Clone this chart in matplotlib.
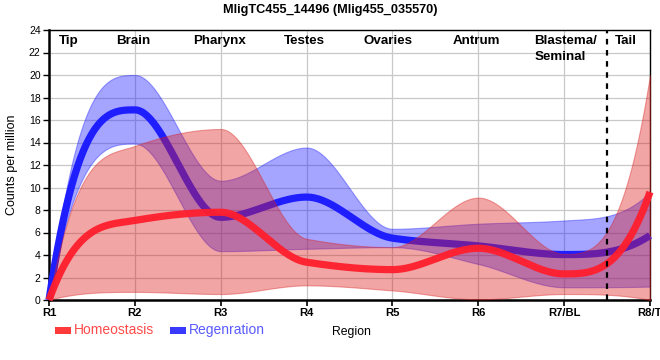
import numpy as np
import matplotlib
matplotlib.use("Agg")
import matplotlib.pyplot as plt
from matplotlib.patches import Rectangle

# ---- data (values at each region) ----
regions = ["R1", "R2", "R3", "R4", "R5", "R6", "R7/BL", "R8/T"]
homeo_mean = [0.0, 7.07, 7.8, 3.36, 2.7, 4.6, 2.32, 9.6]
homeo_upper = [0.0, 13.7, 15.2, 5.44, 4.7, 9.1, 4.1, 20.0]
homeo_lower = [0.0, 0.72, 0.53, 1.3, 0.85, 0.06, 0.53, 0.0]
regen_mean = [0.0, 16.9, 7.35, 9.15, 5.5, 4.81, 4.04, 5.74]
regen_upper = [0.0, 20.0, 10.6, 13.55, 6.33, 6.78, 7.07, 9.6]
regen_lower = [0.0, 13.9, 4.34, 4.55, 4.7, 3.2, 1.13, 1.19]
body_parts = ["Tip", "Brain", "Pharynx", "Testes", "Ovaries", "Antrum", "Tail"]
series_names = ["Homeostasis", "Regenration"]
title = "MligTC455_14496 (Mlig455_035570)"


def mono_curve(y, n_per=60):
    """Monotone cubic Hermite curve through points at x = 0..len-1."""
    y = np.asarray(y, float)
    x = np.arange(len(y), dtype=float)
    d = np.diff(y)
    m = np.zeros_like(y)
    for i in range(1, len(y) - 1):
        if d[i - 1] * d[i] > 0:
            m[i] = 2.0 / (1.0 / d[i - 1] + 1.0 / d[i])
    m[0] = 3.0 * d[0]
    m[-1] = 3.0 * d[-1]
    xs, ys = [], []
    for i in range(len(y) - 1):
        t = np.linspace(0, 1, n_per, endpoint=(i == len(y) - 2))
        h00 = 2 * t**3 - 3 * t**2 + 1
        h10 = t**3 - 2 * t**2 + t
        h01 = -2 * t**3 + 3 * t**2
        h11 = t**3 - t**2
        xs.append(x[i] + t)
        ys.append(h00 * y[i] + h10 * m[i] + h01 * y[i + 1] + h11 * m[i + 1])
    return np.concatenate(xs), np.concatenate(ys)


plt.rcParams['font.family'] = ['Liberation Sans', 'DejaVu Sans']

fig = plt.figure(figsize=(6.6, 3.6), dpi=100)
W, H = 660, 360
ax = fig.add_axes([49 / W, 60 / H, 601 / W, 270 / H])

red_band = '#dc1e1e'
blue_band = '#1e1eff'
red_line = '#ff1e2d'
blue_line = '#1e1eff'

# regeneration band + line
xu, yu = mono_curve(regen_upper)
xl, yl = mono_curve(regen_lower)
ax.fill_between(xu, yl, yu, color=blue_band, alpha=0.4, lw=0.8,
                edgecolor=(0.12, 0.12, 1, 0.45), zorder=2)
xm, ym = mono_curve(regen_mean)
ax.plot(xm, ym, color=blue_line, lw=5.2, solid_capstyle='butt', zorder=3, clip_on=False)

# homeostasis band + line
xu, yu = mono_curve(homeo_upper)
xl, yl = mono_curve(homeo_lower)
ax.fill_between(xu, yl, yu, color=red_band, alpha=0.4, lw=0.8,
                edgecolor=(0.86, 0.12, 0.12, 0.45), zorder=4)
xm, ym = mono_curve(homeo_mean)
ax.plot(xm, ym, color=red_line, lw=5.2, alpha=0.95, solid_capstyle='butt', zorder=5, clip_on=False)

# dashed separator
ax.axvline(6.5, color='black', lw=1.6, dashes=(2.5, 2.5), zorder=6)

ax.set_xlim(0, 7)
ax.set_ylim(0, 24)
ax.set_xticks(range(len(regions)))
ax.set_xticklabels(regions, fontweight='bold', fontsize=8.1)
ax.set_yticks(np.arange(0, 25, 2))
ax.tick_params(axis='y', labelsize=7.5, length=4, width=1, pad=2)
ax.tick_params(axis='x', length=4, width=1.2, pad=2)
ax.grid(True, color='#c8c8c8', lw=0.9)
ax.set_axisbelow(True)
for s in ['left', 'bottom']:
    ax.spines[s].set_linewidth(1.8)
for s in ['top', 'right']:
    ax.spines[s].set_linewidth(1.0)

ax.set_ylabel("Counts per million", fontsize=9)
ax.yaxis.set_label_coords(-0.052, 0.5)
fig.text(351 / W, 1 - 331.7 / H, "Region", ha='center', va='center', fontsize=8.8)
fig.text(330 / W, 1 - 10 / H, title, ha='center', va='center', fontsize=9.2, fontweight='bold')

# body-part labels
label_x = [0.233, 0.98, 1.99, 2.97, 3.95, 4.98, 6.72]
for name, xp in zip(body_parts, label_x):
    ax.text(xp, 22.73, name, ha='center', va='baseline', fontsize=9.6, fontweight='bold', zorder=7)
ax.text(5.65, 22.73, "Blastema/", ha='left', va='baseline', fontsize=9.6, fontweight='bold', zorder=7)
ax.text(5.65, 21.3, "Seminal", ha='left', va='baseline', fontsize=9.6, fontweight='bold', zorder=7)

# legend
fig.add_artist(Rectangle((55 / W, 1 - 334 / H), 15.7 / W, 7.3 / H, transform=fig.transFigure,
                         color='#ff3a3a', lw=0))
fig.text(74 / W, 1 - 330 / H, series_names[0], ha='left', va='center', fontsize=10, color='#ff4a4a')
fig.add_artist(Rectangle((170 / W, 1 - 334 / H), 15.7 / W, 7.3 / H, transform=fig.transFigure,
                         color='#3a3aff', lw=0))
fig.text(189 / W, 1 - 330 / H, series_names[1], ha='left', va='center', fontsize=10, color='#5a5aff')

fig.savefig("out.png", dpi=100)
